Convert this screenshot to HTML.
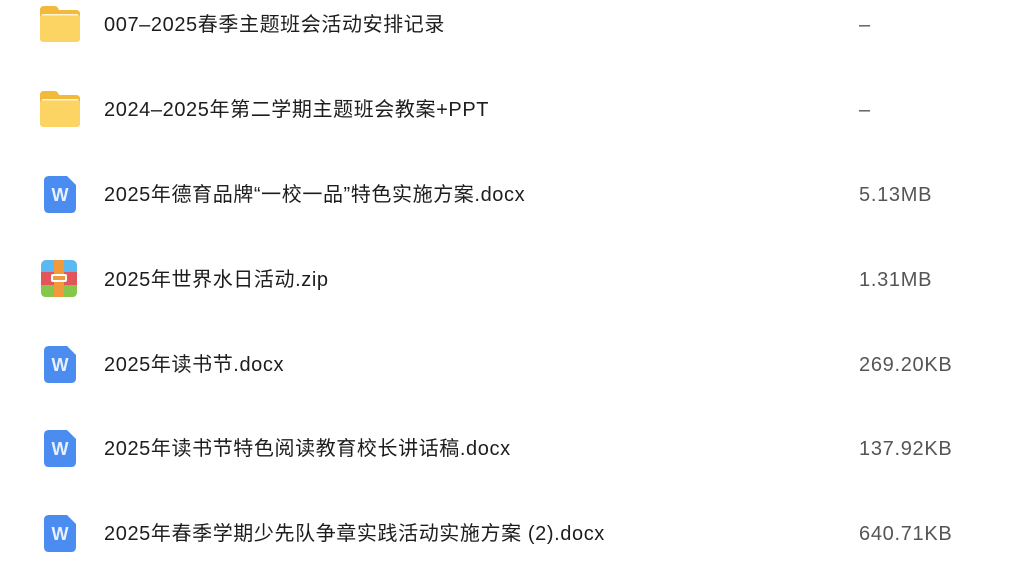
<!DOCTYPE html>
<html><head><meta charset="utf-8"><style>
body{margin:0;width:1024px;height:568px;background:#fff;position:relative;overflow:hidden;font-family:"Liberation Sans","Noto Sans CJK SC",sans-serif;}
.row{position:absolute;left:0;width:1024px;height:40px;}
.name{position:absolute;left:104px;top:9px;font-size:20px;letter-spacing:0.6px;color:#1d1d1f;white-space:nowrap;line-height:24px;}
.size{position:absolute;left:859px;top:9px;font-size:20px;letter-spacing:0.7px;color:#555;line-height:24px;}
.ic{position:absolute;}
</style></head><body>
<svg width="0" height="0" style="position:absolute">
<defs>
<g id="folder"><path d="M2 4 Q2 0 6 0 H16 Q19 0 20 2 L21 4 H38 Q42 4 42 8 V32 Q42 36 38 36 H6 Q2 36 2 32 Z" fill="#f2b93b"/><rect x="2" y="8" width="40" height="28" rx="4" fill="#fbd464"/><rect x="4" y="8" width="36" height="1.5" fill="#fff5d6"/></g>
<g id="word"><path d="M5 0 H23 L32 9 V32 Q32 37 27 37 H5 Q0 37 0 32 V5 Q0 0 5 0Z" fill="#4a8cf0"/><text x="16" y="25" font-size="18" font-weight="bold" fill="#e8f0ff" text-anchor="middle" font-family="Liberation Sans">W</text></g>
<g id="zip"><rect x="0" y="0" width="36" height="37" rx="5" fill="#5bb8f0"/><rect x="0" y="12" width="36" height="13" fill="#e2555a"/><path d="M0 25 H36 V32 Q36 37 31 37 H5 Q0 37 0 32Z" fill="#86c64a"/><rect x="13" y="0" width="10" height="37" fill="#f09a3c"/><rect x="10" y="14" width="16" height="8" rx="2" fill="#fff"/><rect x="12" y="16" width="12" height="4" fill="#f09a3c"/></g>
</defs></svg>

<div class="row" style="top:4px"><svg class="ic" style="left:38px;top:2px" width="44" height="38"><use href="#folder"/></svg><div class="name">007–2025春季主题班会活动安排记录</div><div class="size">–</div></div>
<div class="row" style="top:89px"><svg class="ic" style="left:38px;top:2px" width="44" height="38"><use href="#folder"/></svg><div class="name">2024–2025年第二学期主题班会教案+PPT</div><div class="size">–</div></div>
<div class="row" style="top:174px"><svg class="ic" style="left:44px;top:2px" width="34" height="38"><use href="#word"/></svg><div class="name">2025年德育品牌“一校一品”特色实施方案.docx</div><div class="size">5.13MB</div></div>
<div class="row" style="top:259px"><svg class="ic" style="left:41px;top:1px" width="38" height="38"><use href="#zip"/></svg><div class="name">2025年世界水日活动.zip</div><div class="size">1.31MB</div></div>
<div class="row" style="top:344px"><svg class="ic" style="left:44px;top:2px" width="34" height="38"><use href="#word"/></svg><div class="name">2025年读书节.docx</div><div class="size">269.20KB</div></div>
<div class="row" style="top:428px"><svg class="ic" style="left:44px;top:2px" width="34" height="38"><use href="#word"/></svg><div class="name">2025年读书节特色阅读教育校长讲话稿.docx</div><div class="size">137.92KB</div></div>
<div class="row" style="top:513px"><svg class="ic" style="left:44px;top:2px" width="34" height="38"><use href="#word"/></svg><div class="name">2025年春季学期少先队争章实践活动实施方案 (2).docx</div><div class="size">640.71KB</div></div>
</body></html>
